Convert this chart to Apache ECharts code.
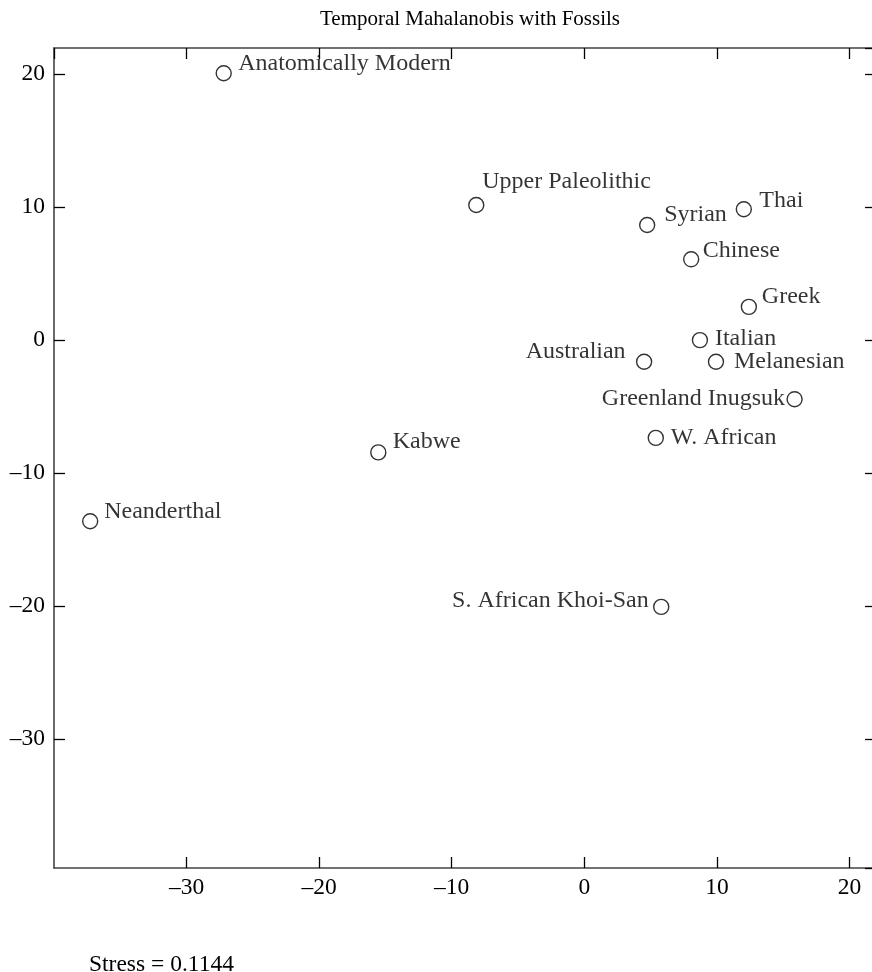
<!DOCTYPE html>
<html>
<head>
<meta charset="utf-8">
<script src="https://cdn.jsdelivr.net/npm/echarts@6/dist/echarts.min.js"></script>
<style>
html,body{margin:0;padding:0;background:#fff;}
#chart{width:872px;height:972px;}
</style>
</head>
<body>
<div id="chart"></div>
<script>
// ---- data ----
const names = ["Anatomically Modern","Upper Paleolithic","Syrian","Thai","Chinese","Greek","Italian","Australian","Melanesian","Greenland Inugsuk","W. African","Kabwe","Neanderthal","S. African Khoi-San"];
const xs = [-27.2, -8.15, 4.74, 12.03, 8.06, 12.41, 8.72, 4.51, 9.93, 15.86, 5.39, -15.54, -37.27, 5.8];
const ys = [20.05, 10.15, 8.65, 9.83, 6.07, 2.5, 0.0, -1.63, -1.63, -4.44, -7.35, -8.44, -13.61, -20.05];
const xRange = [-40, 22];
const yRange = [-39.67, 21.95];
const titleText = "Temporal Mahalanobis with Fossils";
const stressText = "Stress = 0.1144";

// label placement (style): [align, dx, dy] relative to point centre
const labelPlace = {
  "Anatomically Modern": ["left", 14.5, -10],
  "Upper Paleolithic": ["left", 6, -23],
  "Syrian": ["left", 17, -10],
  "Thai": ["left", 15.5, -9],
  "Chinese": ["left", 11.5, -9],
  "Greek": ["left", 13, -10],
  "Italian": ["left", 15, -1],
  "Australian": ["right", -18.5, -10],
  "Melanesian": ["left", 18, 0],
  "Greenland Inugsuk": ["right", -9.5, 0],
  "W. African": ["left", 15, 0],
  "Kabwe": ["left", 14.5, -10.5],
  "Neanderthal": ["left", 14, -9.5],
  "S. African Khoi-San": ["right", -12.5, -6.5]
};

const FONT = '"Liberation Serif", "DejaVu Serif", serif';
const fmt = v => (Math.abs(v - Math.round(v)) > 1e-6) ? '' : String(Math.round(v)).replace('-', '\u2013');

const data = names.map((n, i) => {
  const p = labelPlace[n];
  return {
    name: n,
    value: [xs[i], ys[i]],
    label: { align: p[0], offset: [p[1], p[2]] }
  };
});

const axisLine = { show: true, onZero: false, lineStyle: { color: '#444', width: 1.6 } };
const tick = { show: true, inside: true, length: 11, lineStyle: { color: '#000', width: 1.3 } };

const chart = echarts.init(document.getElementById('chart'), null, { renderer: 'canvas' });
chart.setOption({
  animation: false,
  backgroundColor: '#fff',
  title: {
    text: titleText, left: 465, top: 4, textAlign: 'center',
    textStyle: { fontFamily: FONT, fontSize: 21, fontWeight: 'normal', color: '#000' }
  },
  grid: { left: 54, top: 48, width: 822, height: 820, containLabel: false, outerBoundsMode: 'none' },
  xAxis: [
    { type: 'value', position: 'bottom', min: xRange[0], max: xRange[1], interval: 10,
      axisLine: axisLine, axisTick: tick, splitLine: { show: false },
      axisLabel: { show: true, margin: 8, showMinLabel: false, showMaxLabel: false, formatter: fmt,
        fontFamily: FONT, fontSize: 23.5, color: '#000' } },
    { type: 'value', position: 'top', min: xRange[0], max: xRange[1], interval: 10,
      axisLine: axisLine, axisTick: tick, splitLine: { show: false }, axisLabel: { show: false } }
  ],
  yAxis: [
    { type: 'value', position: 'left', min: yRange[0], max: yRange[1],
      axisLine: axisLine, axisTick: tick, splitLine: { show: false },
      axisLabel: { show: true, margin: 9, showMinLabel: false, showMaxLabel: false, formatter: fmt,
        fontFamily: FONT, fontSize: 23.5, color: '#000' } },
    { type: 'value', position: 'right', min: yRange[0], max: yRange[1],
      axisLine: axisLine, axisTick: tick, splitLine: { show: false }, axisLabel: { show: false } }
  ],
  series: [{
    type: 'scatter',
    xAxisIndex: 0, yAxisIndex: 0,
    symbol: 'circle', symbolSize: 15,
    itemStyle: { color: '#fff', borderColor: '#000', borderWidth: 1.4 },
    label: {
      show: true, position: 'inside', verticalAlign: 'middle',
      formatter: p => p.name,
      fontFamily: FONT, fontSize: 24, color: '#000', textBorderWidth: 0
    },
    emphasis: { disabled: true },
    data: data
  }],
  graphic: [{
    type: 'text', left: 89, top: 953,
    style: { text: stressText, font: '23.5px ' + FONT, fill: '#000' }
  }]
});
</script>
</body>
</html>
